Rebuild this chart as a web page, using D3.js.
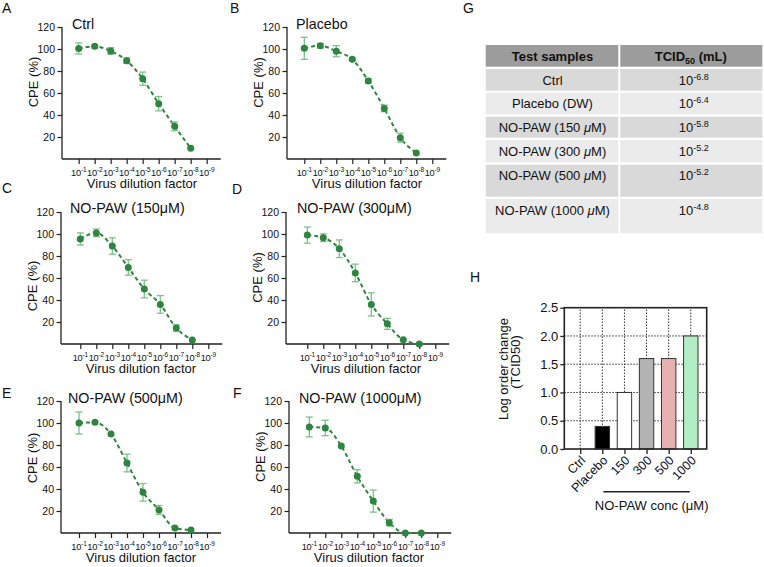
<!DOCTYPE html>
<html>
<head>
<meta charset="utf-8">
<script src="https://cdn.jsdelivr.net/npm/d3@7"></script>
<style>
body{margin:0;background:#fff}
svg{display:block;font-family:"Liberation Sans",Arial,Helvetica,sans-serif}
</style>
</head>
<body>
<script>
// dilution exponents: 10^-1 ... 10^-8, ticks go to 10^-9
const dilutions=[1,2,3,4,5,6,7,8]
const xTicks=[1,2,3,4,5,6,7,8,9]
const yTicks=[20,40,60,80,100,120]

const ctrlCPE=[100.5,102.4,98.2,89.4,73,50.3,29.7,9.7]
const ctrlErr=[5,1.5,3,2.5,6,6.5,4,0]
const placeboCPE=[100.6,103,98,90.6,71,46,19.4,5.5]
const placeboErr=[10,2,5,1,2,3,4,0]
const paw150CPE=[95.5,101,89,69.6,50,36,14.5,3.6]
const paw150Err=[5.5,3.5,7.5,7,8,8,3,0]
const paw300CPE=[99,96.6,86.6,64.6,36,18.3,3.8,0]
const paw300Err=[7.3,3.5,8,8,10.5,5,0,0]
const paw500CPE=[100,100.6,90,63.6,37,21,4.5,2.7]
const paw500Err=[10,0,0,8,8,4,0,0]
const paw1000CPE=[96.4,95.5,79,51.5,29,9.4,0,0]
const paw1000Err=[9,7,0,6,10,3,0,0]

const panelLetters=['A','B','C','D','E','F']
const panelTitles=['Ctrl','Placebo','NO-PAW (150\u03bcM)','NO-PAW (300\u03bcM)','NO-PAW (500\u03bcM)','NO-PAW (1000\u03bcM)']
const panelCPE=[ctrlCPE,placeboCPE,paw150CPE,paw300CPE,paw500CPE,paw1000CPE]
const panelErr=[ctrlErr,placeboErr,paw150Err,paw300Err,paw500Err,paw1000Err]

// table G
const tableSamples=['Ctrl','Placebo (DW)','NO-PAW (150 \u03bcM)','NO-PAW (300 \u03bcM)','NO-PAW (500 \u03bcM)','NO-PAW (1000 \u03bcM)']
const tcidExp=['-6.8','-6.4','-5.8','-5.2','-5.2','-4.8']

// bar chart H
const hCats=['Ctrl','Placebo','150','300','500','1000']
const hValues=[0,0.4,1.0,1.6,1.6,2.0]
const hColors=['#000','#000','#fff','#b3b3b3','#e8b1b1','#b2edc6']
const hTicks=[0,0.5,1.0,1.5,2.0,2.5]

const green='#2e8540', errGreen='#7cc08a'

var svg=d3.select('body').append('svg').attr('width',764).attr('height',567)

// panel placement
const layout=[
  {x0:62,t:78.7,y0:159,lx:2,ly:13,tx:72,ty:29,yl:82},
  {x0:287,t:304.3,y0:159,lx:230,ly:13,tx:296,ty:29,yl:82.5},
  {x0:61,t:80.3,y0:344,lx:2,ly:193,tx:70,ty:213,yl:286},
  {x0:286,t:307.3,y0:344,lx:232,ly:194,tx:297,ty:213,yl:277.5},
  {x0:61,t:79,y0:533,lx:2,ly:398,tx:68,ty:403,yl:458},
  {x0:289,t:309.3,y0:533,lx:233,ly:398,tx:299,ty:403,yl:456.7}
]

layout.forEach(function(p,i){
  let g=svg.append('g')
  let x=d3.scaleLinear().domain([1,9]).range([p.t,p.t+128])
  let y=d3.scaleLinear().domain([0,120]).range([p.y0,p.y0-132])

  // y axis
  let ya=g.append('g').attr('transform','translate('+p.x0+',0)')
    .call(d3.axisLeft(y).tickValues(yTicks).tickSize(4.5).tickPadding(2.5).tickSizeOuter(0))
  ya.select('.domain').remove()
  ya.selectAll('line').attr('stroke','#222').attr('stroke-width',1.2)
  ya.selectAll('text').attr('font-size',10.5).attr('fill','#111').attr('font-family','Liberation Sans, Arial')
  g.append('line').attr('x1',p.x0).attr('x2',p.x0).attr('y1',p.y0).attr('y2',y(120))
    .attr('stroke','#222').attr('stroke-width',1.3)

  // x axis
  let xa=g.append('g').attr('transform','translate(0,'+p.y0+')')
    .call(d3.axisBottom(x).tickValues(xTicks).tickSize(5).tickFormat(''))
  xa.select('.domain').remove()
  xa.selectAll('line').attr('stroke','#222').attr('stroke-width',1.2)
  g.append('line').attr('x1',p.x0).attr('x2',p.t+142).attr('y1',p.y0).attr('y2',p.y0)
    .attr('stroke','#222').attr('stroke-width',1.3)
  xTicks.forEach(function(k){
    let tx=g.append('text').attr('x',x(k)).attr('y',p.y0+16.5).attr('text-anchor','middle')
      .attr('font-size',9.3).attr('fill','#111').attr('letter-spacing',-0.2)
    tx.append('tspan').text('10')
    tx.append('tspan').attr('dy',-3.8).attr('font-size',6.5).text('-'+k)
  })

  // labels
  g.append('text').attr('x',p.x0+80).attr('y',p.y0+29).attr('text-anchor','middle')
    .attr('font-size',13).attr('fill','#111').text('Virus dilution factor')
  g.append('text').attr('transform','translate('+(p.x0-24)+','+p.yl+') rotate(-90)')
    .attr('text-anchor','middle').attr('font-size',13).attr('fill','#111').text('CPE (%)')
  g.append('text').attr('x',p.tx).attr('y',p.ty).attr('font-size',14.3).attr('fill','#111').text(panelTitles[i])
  g.append('text').attr('x',p.lx).attr('y',p.ly).attr('font-size',14).attr('fill','#111').text(panelLetters[i])

  let pts=dilutions.map(function(d,j){return {x:d,v:panelCPE[i][j],e:panelErr[i][j]}})

  // fitted dashed line
  let line=d3.line().x(function(d){return x(d.x)}).y(function(d){return y(d.v)}).curve(d3.curveMonotoneX)
  g.append('path').attr('d',line(pts)).attr('fill','none').attr('stroke',green)
    .attr('stroke-width',2).attr('stroke-dasharray','4,3')

  // error bars
  let eb=g.selectAll('.eb').data(pts.filter(function(d){return d.e>0})).enter().append('g')
    .attr('stroke',errGreen).attr('stroke-width',1.3)
  eb.append('line').attr('x1',function(d){return x(d.x)}).attr('x2',function(d){return x(d.x)})
    .attr('y1',function(d){return y(d.v+d.e)}).attr('y2',function(d){return y(d.v-d.e)})
  eb.append('line').attr('x1',function(d){return x(d.x)-3.5}).attr('x2',function(d){return x(d.x)+3.5})
    .attr('y1',function(d){return y(d.v+d.e)}).attr('y2',function(d){return y(d.v+d.e)})
  eb.append('line').attr('x1',function(d){return x(d.x)-3.5}).attr('x2',function(d){return x(d.x)+3.5})
    .attr('y1',function(d){return y(d.v-d.e)}).attr('y2',function(d){return y(d.v-d.e)})

  g.selectAll('.pt').data(pts).enter().append('circle')
    .attr('cx',function(d){return x(d.x)}).attr('cy',function(d){return y(d.v)})
    .attr('r',3.5).attr('fill',green)
})

// ---------- G table ----------
svg.append('text').attr('x',463).attr('y',13).attr('font-size',14).attr('fill','#111').text('G')
const tL=485.7, tM=619.3, tR=762.3
const rowBands=[[45,66.7],[69,90.7],[92.7,114.3],[116.7,137.7],[140,162.3],[164.7,196.7],[199,233.3]]
rowBands.forEach(function(b,i){
  let fill=i==0?'#9c9c9c':(i%2==1?'#d9d9d9':'#ebebeb')
  svg.append('rect').attr('x',tL).attr('y',b[0]).attr('width',tM-tL-1).attr('height',b[1]-b[0]).attr('fill',fill)
  svg.append('rect').attr('x',tM+1).attr('y',b[0]).attr('width',tR-tM-1).attr('height',b[1]-b[0]).attr('fill',fill)
})
let c1=(tL+tM)/2, c2=(tM+tR)/2
svg.append('text').attr('x',c1).attr('y',60.5).attr('text-anchor','middle').attr('font-size',13)
  .attr('font-weight','bold').attr('fill','#111').text('Test samples')
let hd=svg.append('text').attr('x',c2).attr('y',60.5).attr('text-anchor','middle').attr('font-size',13)
  .attr('font-weight','bold').attr('fill','#111')
hd.append('tspan').text('TCID')
hd.append('tspan').attr('dy',3).attr('font-size',9).text('50')
hd.append('tspan').attr('dy',-3).text(' (mL)')
tableSamples.forEach(function(s,i){
  let yb=rowBands[i+1][0]+15.5
  let t=svg.append('text').attr('x',c1).attr('y',yb).attr('text-anchor','middle').attr('font-size',13).attr('fill','#111')
  let parts=s.split('\u03bc')
  t.append('tspan').text(parts[0])
  if(parts.length>1){
    t.append('tspan').attr('font-style','italic').text('\u03bc')
    t.append('tspan').text(parts[1])
  }
  let v=svg.append('text').attr('x',c2+3).attr('y',yb).attr('text-anchor','middle').attr('font-size',13).attr('fill','#111')
  v.append('tspan').text('10')
  v.append('tspan').attr('dy',-5).attr('font-size',9).text(tcidExp[i])
})

// ---------- H bar chart ----------
svg.append('text').attr('x',470).attr('y',282).attr('font-size',14).attr('fill','#111').text('H')
const hL=564.3, hR=706.7
let hx=d3.scalePoint().domain(hCats).range([hL,hR]).padding(0.72)
let hy=d3.scaleLinear().domain([0,2.5]).range([449,307.7])

// dotted grid
let grid=svg.append('g').attr('stroke','#333').attr('stroke-width',1).attr('stroke-dasharray','1.5,1.5')
hCats.forEach(function(c){
  grid.append('line').attr('x1',hx(c)).attr('x2',hx(c)).attr('y1',hy(0)).attr('y2',hy(2.5))
})
hTicks.slice(1,5).forEach(function(v){
  grid.append('line').attr('x1',hL).attr('x2',hR).attr('y1',hy(v)).attr('y2',hy(v))
})

svg.selectAll('.hbar').data(hCats).enter().append('rect')
  .attr('x',function(d){return hx(d)-7.2}).attr('width',14.4)
  .attr('y',function(d,i){return hy(hValues[i])}).attr('height',function(d,i){return hy(0)-hy(hValues[i])})
  .attr('fill',function(d,i){return hColors[i]}).attr('stroke','#333').attr('stroke-width',1)
  .style('display',function(d,i){return hValues[i]>0?null:'none'})

let hya=svg.append('g').attr('transform','translate('+hL+',0)')
  .call(d3.axisLeft(hy).tickValues(hTicks).tickFormat(d3.format('.1f')).tickSize(4).tickPadding(2).tickSizeOuter(0))
hya.select('.domain').remove()
hya.selectAll('line').attr('stroke','#222').attr('stroke-width',1.3)
hya.selectAll('text').attr('font-size',13).attr('fill','#111').attr('font-family','Liberation Sans, Arial')

let hxa=svg.append('g').attr('transform','translate(0,'+hy(0)+')')
  .call(d3.axisBottom(hx).tickSize(5).tickFormat(''))
hxa.select('.domain').remove()
hxa.selectAll('line').attr('stroke','#222').attr('stroke-width',1.3)

// frame
svg.append('rect').attr('x',hL).attr('y',hy(2.5)).attr('width',hR-hL).attr('height',hy(0)-hy(2.5))
  .attr('fill','none').attr('stroke','#222').attr('stroke-width',1.6)

hCats.forEach(function(c){
  svg.append('text').attr('transform','translate('+(hx(c)+3)+',458) rotate(-45)')
    .attr('text-anchor','end').attr('dy','0.35em').attr('font-size',12.5).attr('fill','#111').text(c)
})
svg.append('line').attr('x1',hx('Placebo')+1).attr('x2',hx('1000')-1).attr('y1',491.7).attr('y2',491.7)
  .attr('stroke','#222').attr('stroke-width',1.4)
svg.append('text').attr('x',651.7).attr('y',510).attr('text-anchor','middle').attr('font-size',13)
  .attr('fill','#111').text('NO-PAW conc (\u03bcM)')

svg.append('text').attr('transform','translate(508,369) rotate(-90)').attr('text-anchor','middle')
  .attr('font-size',13).attr('fill','#111').text('Log order  change')
svg.append('text').attr('transform','translate(520,362) rotate(-90)').attr('text-anchor','middle')
  .attr('font-size',13).attr('fill','#111').text('(TCID50)')
</script>
</body>
</html>
